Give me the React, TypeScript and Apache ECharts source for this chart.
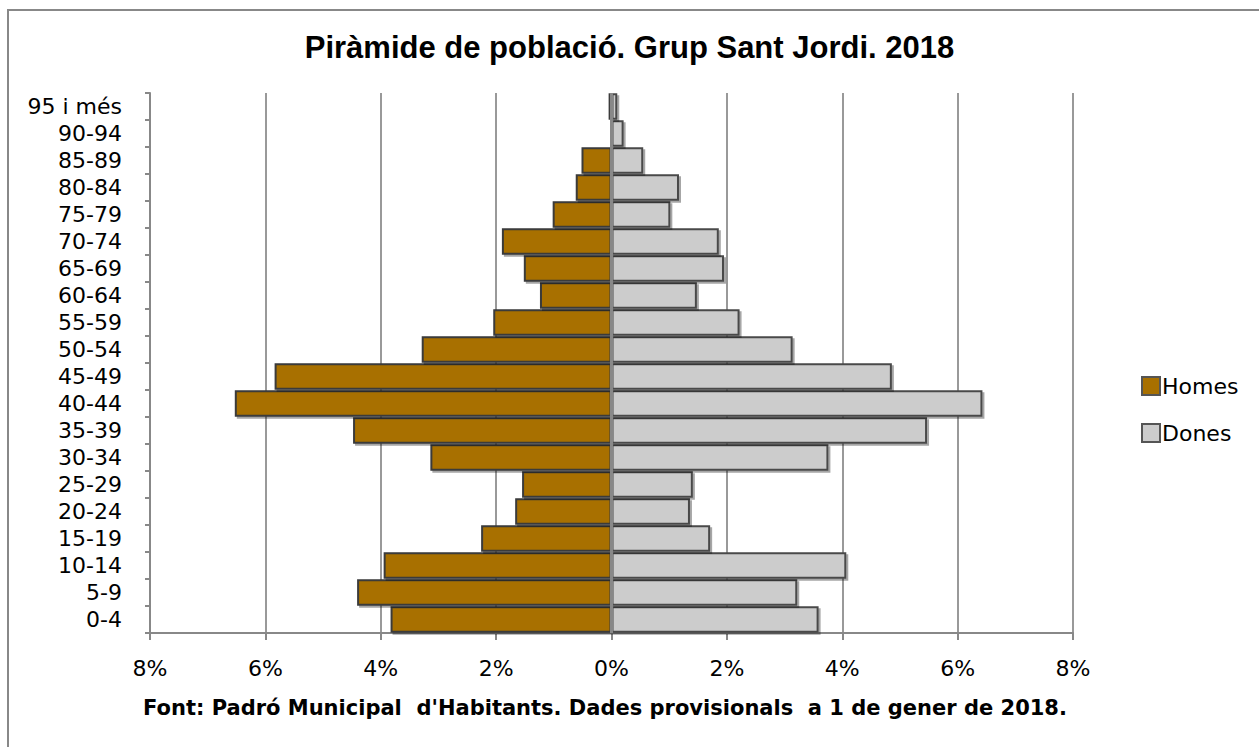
import React, { useEffect, useRef } from "react";
import * as echarts from "echarts";

const categories = [
  "0-4", "5-9", "10-14", "15-19", "20-24", "25-29", "30-34", "35-39", "40-44", "45-49",
  "50-54", "55-59", "60-64", "65-69", "70-74", "75-79", "80-84", "85-89", "90-94", "95 i més",
];
// percentages (Homes drawn to the left)
const homes = [3.83, 4.41, 3.95, 2.26, 1.67, 1.55, 3.14, 4.48, 6.53, 5.84,
  3.29, 2.05, 1.24, 1.52, 1.9, 1.02, 0.62, 0.52, 0.0, 0.05];
const dones = [3.59, 3.22, 4.07, 1.71, 1.36, 1.41, 3.76, 5.47, 6.43, 4.86,
  3.14, 2.22, 1.48, 1.95, 1.86, 1.02, 1.17, 0.55, 0.21, 0.1];
const xTicks = [-8, -6, -4, -2, 0, 2, 4, 6, 8];

const titleText = "Piràmide de població. Grup Sant Jordi. 2018";
const footerText = "Font: Padró Municipal  d'Habitants. Dades provisionals  a 1 de gener de 2018.";

export default function App() {
  const ref = useRef<HTMLDivElement>(null);
  useEffect(() => {
    if (!ref.current) return;
    const chart = echarts.init(ref.current, null, { renderer: "svg" });
    const font = "'DejaVu Sans', Verdana, sans-serif";
    chart.setOption({
      animation: false,
      backgroundColor: "#ffffff",
      title: {
        text: titleText,
        left: "center",
        top: 27,
        textStyle: { fontFamily: "'Liberation Sans', Arial, sans-serif", fontWeight: "bold", fontSize: 31, color: "#000" },
      },
      legend: {
        orient: "vertical",
        left: 1136,
        top: 370,
        itemWidth: 18,
        itemHeight: 18,
        itemGap: 25,
        textStyle: { fontFamily: font, fontSize: 22, color: "#000", padding: [0, 0, 0, -3] },
        data: [
          { name: "Homes", icon: "rect", itemStyle: { color: "#A87000", borderColor: "#555", borderWidth: 2 } },
          { name: "Dones", icon: "rect", itemStyle: { color: "#CCCCCC", borderColor: "#555", borderWidth: 2 } },
        ],
      },
      grid: { left: 150, right: 186, top: 93, bottom: 114, containLabel: false },
      xAxis: {
        type: "value",
        min: -8,
        max: 8,
        interval: 2,
        axisLine: { show: true, lineStyle: { color: "#888", width: 2 } },
        axisTick: { show: true, length: 7, lineStyle: { color: "#888", width: 2 } },
        splitLine: { show: true, lineStyle: { color: "#999", width: 2 } },
        axisLabel: {
          fontFamily: font,
          fontSize: 22,
          color: "#000",
          margin: 24,
          formatter: (v: number) => (xTicks.includes(v) ? Math.abs(v) + "%" : ""),
        },
      },
      yAxis: {
        type: "category",
        data: categories,
        axisLine: { show: true, onZero: false, lineStyle: { color: "#888", width: 2 } },
        axisTick: { show: true, length: 5, lineStyle: { color: "#888", width: 2 } },
        axisLabel: { fontFamily: font, fontSize: 22, color: "#000", margin: 28, interval: 0 },
        position: "left",
      },
      series: [
        {
          name: "Homes",
          type: "bar",
          stack: "p",
          barCategoryGap: "2%",
          data: homes.map((v) => -v),
          itemStyle: {
            color: "#A87000",
            borderColor: "#3a3a3a",
            borderWidth: 2,
            shadowColor: "rgba(0,0,0,0.35)",
            shadowOffsetX: 2,
            shadowOffsetY: 2,
          },
        },
        {
          name: "Dones",
          type: "bar",
          stack: "p",
          barCategoryGap: "2%",
          data: dones,
          itemStyle: {
            color: "#CCCCCC",
            borderColor: "#4a4a4a",
            borderWidth: 2,
            shadowColor: "rgba(0,0,0,0.35)",
            shadowOffsetX: 2,
            shadowOffsetY: 2,
          },
        },
        {
          name: "zero",
          type: "line",
          data: [],
          markLine: {
            silent: true,
            symbol: "none",
            label: { show: false },
            lineStyle: { color: "#888", width: 3, type: "solid" },
            data: [{ xAxis: 0 }],
          },
        },
      ],
      graphic: [
        {
          type: "rect",
          shape: { x: 8, y: 10, width: 1262, height: 750 },
          style: { fill: "none", stroke: "#888", lineWidth: 2 },
          silent: true,
        },
        {
          type: "text",
          x: 605,
          y: 708,
          style: {
            text: footerText,
            fontFamily: font,
            fontWeight: "bold",
            fontSize: 21,
            fill: "#000",
            align: "center",
            verticalAlign: "middle",
          },
        },
      ],
    });
    return () => chart.dispose();
  }, []);
  return (
    <div
      ref={ref}
      style={{ position: "absolute", left: 0, top: 0, width: 1259, height: 747 }}
    />
  );
}
